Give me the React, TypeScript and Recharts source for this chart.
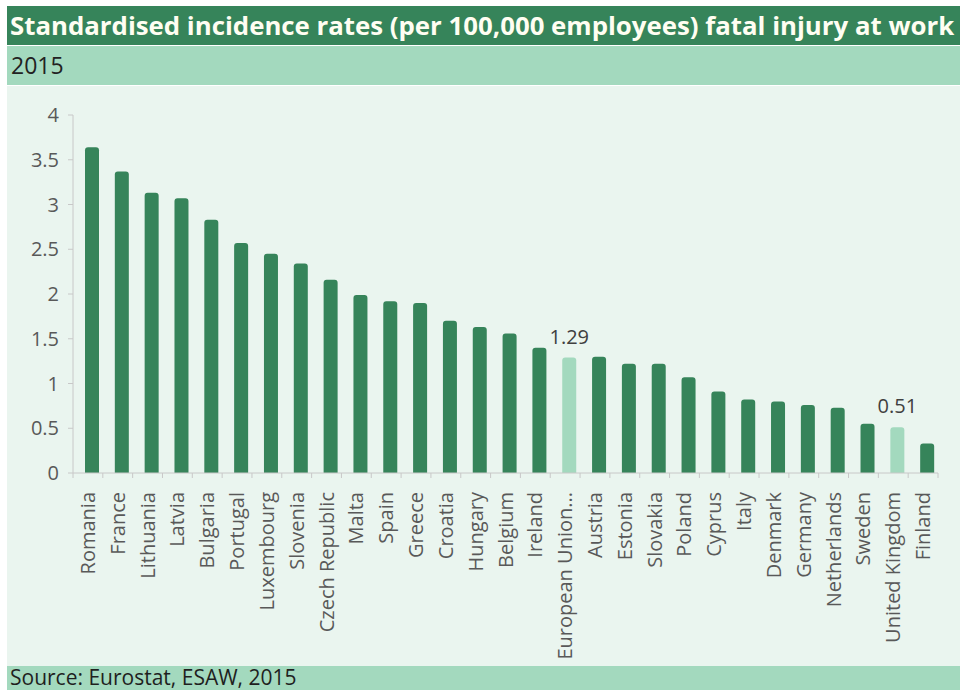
import React from 'react';
import { BarChart, Bar, XAxis, YAxis, Cell, LabelList, Rectangle } from 'recharts';

// Fatal injuries at work, standardised rate per 100,000 employees, 2015
const countries = [
  'Romania', 'France', 'Lithuania', 'Latvia', 'Bulgaria', 'Portugal', 'Luxembourg',
  'Slovenia', 'Czech Republic', 'Malta', 'Spain', 'Greece', 'Croatia', 'Hungary',
  'Belgium', 'Ireland', 'European Union (28 countries)', 'Austria', 'Estonia', 'Slovakia',
  'Poland', 'Cyprus', 'Italy', 'Denmark', 'Germany', 'Netherlands', 'Sweden',
  'United Kingdom', 'Finland',
];
const rates = [
  3.64, 3.37, 3.13, 3.07, 2.83, 2.57, 2.45,
  2.34, 2.16, 1.99, 1.92, 1.90, 1.70, 1.63,
  1.56, 1.40, 1.29, 1.30, 1.22, 1.22,
  1.07, 0.91, 0.82, 0.80, 0.76, 0.73, 0.55,
  0.51, 0.33,
];
const highlighted = ['European Union (28 countries)', 'United Kingdom'];
const yTicks = [0, 0.5, 1, 1.5, 2, 2.5, 3, 3.5, 4];

const DARK = '#36845a';
const LIGHT = '#a3d9be';
const PANEL = '#eaf5ef';
const AXIS = '#c8c8c8';
const TEXT = '#595959';
const FONT = '"Open Sans", sans-serif';

const CHART_W = 953;
const CHART_H = 580;
const MARGIN = { top: 29, right: 22, bottom: 0, left: 0 };
const Y_W = 66;
const BAND = (CHART_W - MARGIN.left - MARGIN.right - Y_W) / countries.length;
const BAR_SHIFT = 4;

const data = countries.map((name, i) => ({
  name,
  value: rates[i],
  label: highlighted.includes(name) ? rates[i] : null,
}));

const shortName = (s: string) => (s.length > 16 ? s.slice(0, 14) + '...' : s);

// category label rotated, with tick marks on the band edges
const CountryTick = (props: any) => {
  const { x, y, payload, index } = props;
  const right = x + BAND / 2;
  return (
    <g>
      {index === 0 && <line x1={x - BAND / 2} x2={x - BAND / 2} y1={y} y2={y + 5} stroke={AXIS} />}
      <line x1={right} x2={right} y1={y} y2={y + 5} stroke={AXIS} />
      <text
        transform={`translate(${x}, ${y + 19}) rotate(-90)`}
        textAnchor="end"
        dy="0.35em"
        fontSize={20}
        fontFamily={FONT}
        fill={TEXT}
      >
        {shortName(payload.value)}
      </text>
    </g>
  );
};

const ShiftedBar = (props: any) => (
  <Rectangle {...props} x={props.x + BAR_SHIFT} radius={[3, 3, 0, 0]} />
);

export default function App() {
  return (
    <div style={{ position: 'absolute', left: 0, top: 0, width: 960, height: 690, background: '#fff', fontFamily: FONT, overflow: 'hidden' }}>
      <div style={{ position: 'absolute', left: 7, top: 6, width: 953, height: 39, background: DARK, color: '#fffef2', fontWeight: 700, fontSize: 25.8, lineHeight: '39px', paddingLeft: 3, whiteSpace: 'nowrap', boxSizing: 'border-box' }}>
        Standardised incidence rates (per 100,000 employees) fatal injury at work
      </div>
      <div style={{ position: 'absolute', left: 7, top: 46, width: 953, height: 39, background: LIGHT, color: '#222', fontSize: 23, lineHeight: '39px', paddingLeft: 4, boxSizing: 'border-box' }}>
        2015
      </div>
      <div style={{ position: 'absolute', left: 7, top: 86, width: CHART_W, height: CHART_H, background: PANEL }}>
        <BarChart width={CHART_W} height={CHART_H} data={data} margin={MARGIN} barSize={14}>
          <YAxis
            width={Y_W}
            domain={[0, 4]}
            ticks={yTicks}
            interval={0}
            axisLine={{ stroke: AXIS }}
            tickLine={{ stroke: AXIS }}
            tickSize={5}
            tickMargin={9}
            tick={{ fill: TEXT, fontSize: 20, fontFamily: FONT }}
          />
          <XAxis
            dataKey="name"
            interval={0}
            height={CHART_H - MARGIN.top - 358}
            axisLine={{ stroke: AXIS }}
            tickLine={false}
            tickSize={0}
            tickMargin={0}
            tick={<CountryTick />}
          />
          <Bar dataKey="value" isAnimationActive={false} shape={<ShiftedBar />}>
            {data.map((d) => (
              <Cell key={d.name} fill={highlighted.includes(d.name) ? LIGHT : DARK} />
            ))}
            <LabelList dataKey="label" position="top" offset={14} dx={BAR_SHIFT} fill="#404040" fontSize={20} fontFamily={FONT} />
          </Bar>
        </BarChart>
      </div>
      <div style={{ position: 'absolute', left: 7, top: 666, width: 953, height: 24, background: LIGHT, color: '#1f1f1f', fontSize: 21, lineHeight: '22px', paddingLeft: 3, boxSizing: 'border-box', whiteSpace: 'nowrap' }}>
        Source: Eurostat, ESAW, 2015
      </div>
    </div>
  );
}
